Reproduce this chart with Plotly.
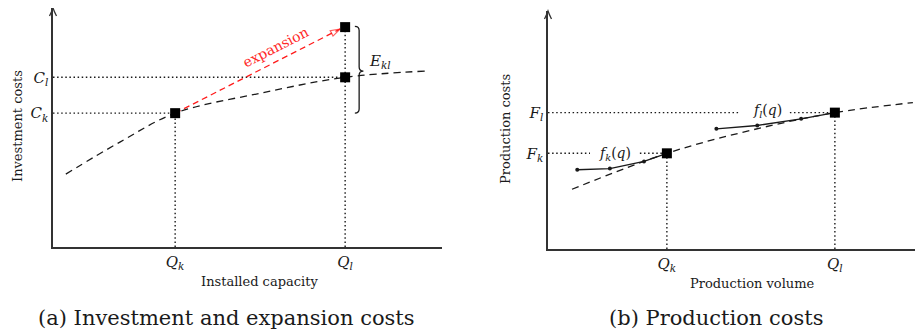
import plotly.graph_objects as go

# The page body has an 8px margin, so the figure is drawn 8px in from the top-left.
OFF = 8
W, H = 923 - OFF, 334 - OFF
SERIF = "DejaVu Serif"
INK = "#1a1a1a"

# ---------------- data (a) Investment and expansion costs ----------------
inv_curve_x = [0.33, 1.72, 3.14, 5.32, 7.51, 9.56]
inv_curve_y = [3.05, 4.39, 5.60, 6.43, 7.10, 7.36]
a_Q = [3.14, 7.51]            # Q_k, Q_l
a_C = [5.60, 7.10]            # C_k, C_l
a_C_exp = 9.20                # cost after expansion at Q_l
a_xticks = ["<i>Q<sub>k</sub></i>", "<i>Q<sub>l</sub></i>"]
a_yticks = ["<i>C<sub>k</sub></i>", "<i>C<sub>l</sub></i>"]
arrow_x = [3.14, 7.38]
arrow_y = [5.60, 9.12]

# ---------------- data (b) Production costs ----------------
prod_curve_x = [0.64, 3.17, 5.39, 7.65, 9.73]
prod_curve_y = [2.51, 4.02, 4.98, 5.73, 6.15]
b_Q = [3.17, 7.65]
b_F = [4.02, 5.73]
fk_x = [0.78, 1.65, 2.56, 3.17]
fk_y = [3.33, 3.38, 3.68, 4.02]
fl_x = [4.49, 5.58, 6.75, 7.65]
fl_y = [5.05, 5.19, 5.47, 5.73]
b_xticks = ["<i>Q<sub>k</sub></i>", "<i>Q<sub>l</sub></i>"]
b_yticks = ["<i>F<sub>k</sub></i>", "<i>F<sub>l</sub></i>"]

fig = go.Figure()

DOT = "1.5px,2.6px"
DASH = "7px,5px"

def dotted(x, y, xa, ya):
    fig.add_trace(go.Scatter(x=x, y=y, mode="lines", xaxis=xa, yaxis=ya,
                             line=dict(color=INK, width=1.4, dash=DOT),
                             hoverinfo="skip", showlegend=False))

# ---- panel (a) ----
for q, c in zip(a_Q, a_C):
    dotted([0, q], [c, c], "x", "y")
    dotted([q, q], [0, c], "x", "y")
dotted([a_Q[1], a_Q[1]], [a_C[1], a_C_exp], "x", "y")

fig.add_trace(go.Scatter(x=inv_curve_x, y=inv_curve_y, mode="lines", xaxis="x", yaxis="y",
                         line=dict(color=INK, width=1.3, dash=DASH, shape="spline", smoothing=1.0),
                         hoverinfo="skip", showlegend=False))
fig.add_trace(go.Scatter(x=arrow_x, y=arrow_y, mode="lines+markers", xaxis="x", yaxis="y",
                         line=dict(color="#ff1a1a", width=1.3, dash="6px,4px"),
                         marker=dict(symbol=["circle", "arrow-open"], size=[0, 10],
                                     angleref="previous", color="#ff1a1a",
                                     line=dict(color="#ff1a1a", width=1.2)),
                         hoverinfo="skip", showlegend=False))
fig.add_trace(go.Scatter(x=[a_Q[0], a_Q[1], a_Q[1]], y=[a_C[0], a_C[1], a_C_exp],
                         mode="markers", xaxis="x", yaxis="y",
                         marker=dict(symbol="square", size=10, color="black"),
                         hoverinfo="skip", showlegend=False))

# ---- panel (b) ----
# horizontal guides are interrupted where the f(q) labels sit
label_gaps = [(1.12, 2.45), (5.07, 6.45)]
for q, f, (g0, g1) in zip(b_Q, b_F, label_gaps):
    dotted([0, g0], [f, f], "x2", "y2")
    dotted([g1, q], [f, f], "x2", "y2")
    dotted([q, q], [0, f], "x2", "y2")

fig.add_trace(go.Scatter(x=prod_curve_x, y=prod_curve_y, mode="lines", xaxis="x2", yaxis="y2",
                         line=dict(color=INK, width=1.3, dash=DASH, shape="spline", smoothing=1.0),
                         hoverinfo="skip", showlegend=False))
for xs, ys in [(fk_x, fk_y), (fl_x, fl_y)]:
    fig.add_trace(go.Scatter(x=xs, y=ys, mode="lines+markers", xaxis="x2", yaxis="y2",
                             line=dict(color=INK, width=1.3),
                             marker=dict(size=4, color=INK),
                             hoverinfo="skip", showlegend=False))
fig.add_trace(go.Scatter(x=b_Q, y=b_F, mode="markers", xaxis="x2", yaxis="y2",
                         marker=dict(symbol="square", size=10, color="black"),
                         hoverinfo="skip", showlegend=False))

# ---- axes ----
tickfont = dict(family=SERIF, size=15, color=INK)
common = dict(range=[0, 10], showgrid=False, zeroline=False, showline=True,
              linecolor="#333", linewidth=1.5, ticks="", tickfont=tickfont,
              ticklabelstandoff=0, fixedrange=True)

def fx(p):  # page pixel x -> paper fraction
    return min(1.0, max(0.0, (p - OFF) / W))

def fy(p):  # page pixel y -> paper fraction
    return min(1.0, max(0.0, 1 - (p - OFF) / H))

fig.update_layout(
    width=W, height=H, margin=dict(l=0, r=0, t=0, b=0),
    paper_bgcolor="white", plot_bgcolor="white", showlegend=False,
    xaxis=dict(common, domain=[fx(53), fx(442)], anchor="y",
               tickvals=a_Q, ticktext=a_xticks),
    yaxis=dict(common, domain=[fy(247), fy(8)], anchor="x",
               tickvals=a_C, ticktext=a_yticks),
    xaxis2=dict(common, domain=[fx(548), 1.0], anchor="y2",
                tickvals=b_Q, ticktext=b_xticks),
    yaxis2=dict(common, domain=[fy(249), fy(11)], anchor="x2",
                tickvals=b_F, ticktext=b_yticks),
)

# y-axis arrowheads (pixel-sized paths anchored at the axis tips, paper-referenced so not clipped)
for ax_x, ax_y in [(53, 8), (548, 11)]:
    fig.add_shape(type="path", xref="paper", yref="paper", xsizemode="pixel", ysizemode="pixel",
                  xanchor=fx(ax_x), yanchor=fy(ax_y),
                  path="M -3.5,-8 Q -1,-3 0,0 Q 1,-3 3.5,-8",
                  line=dict(color="#333", width=1.3))

# brace for E_kl
x0, xs, xt = 7.76, 7.87, 7.98
yt, ym, yb, c = a_C_exp + 0.03, 7.36, a_C[0], 0.17
brace = (f"M {x0},{yt} Q {xs},{yt} {xs},{yt - c} L {xs},{ym + c} "
         f"Q {xs},{ym} {xt},{ym} Q {xs},{ym} {xs},{ym - c} "
         f"L {xs},{yb + c} Q {xs},{yb} {x0},{yb}")
fig.add_shape(type="path", xref="x", yref="y", path=brace,
              line=dict(color=INK, width=1.3))

# ---- annotations ----
def ann(text, x, y, size, xref="paper", yref="paper", **kw):
    fig.add_annotation(text=text, x=x, y=y, xref=xref, yref=yref, showarrow=False,
                       font=dict(family=SERIF, size=size, color=kw.pop("color", INK)),
                       xanchor="center", yanchor="middle", **kw)

def px(x, y):
    return fx(x), fy(y)

ann("expansion", 5.73, 8.36, 14, xref="x", yref="y", textangle=-27, color="#ff2a2a")
ann("<i>E<sub>kl</sub></i>", 8.41, 7.78, 15, xref="x", yref="y")
ann("<i>f<sub>k</sub></i>(<i>q</i>)", 1.79, 4.0, 14, xref="x2", yref="y2")
ann("<i>f<sub>l</sub></i>(<i>q</i>)", 5.84, 5.80, 14, xref="x2", yref="y2")

ann("Installed capacity", *px(259, 281), 13)
ann("Investment costs", *px(17, 126), 13, textangle=-90)
ann("Production volume", *px(752, 283), 13)
ann("Production costs", *px(505, 129), 13, textangle=-90)
ann("(a) Investment and expansion costs", *px(226, 318), 21)
ann("(b) Production costs", *px(716, 318), 21)

fig.write_html("out.html")
